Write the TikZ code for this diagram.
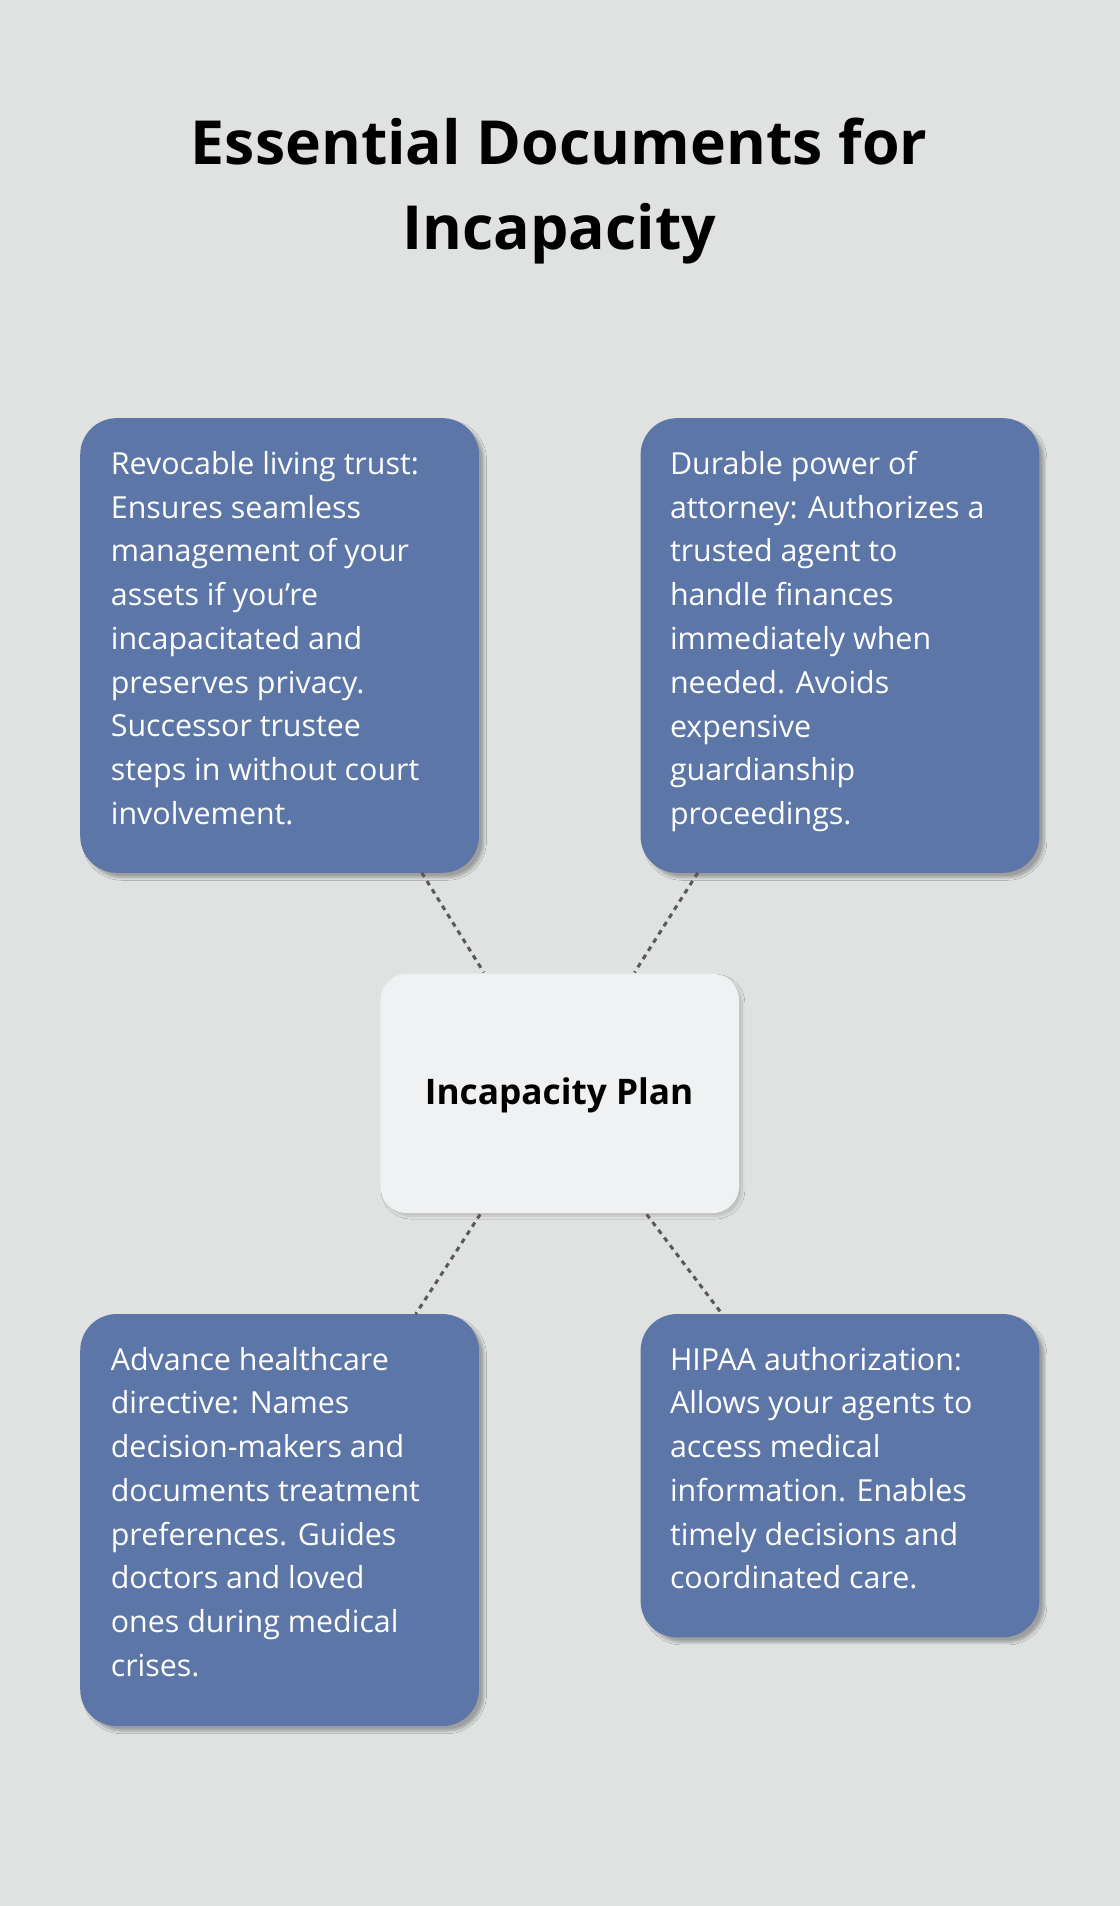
\documentclass[tikz,border=0pt]{standalone}
\usepackage{fontspec}
\setmainfont{Open Sans}
\usetikzlibrary{shadows.blur}
\definecolor{bg}{HTML}{E0E2E1}
\definecolor{boxc}{HTML}{5C76A8}
\definecolor{cen}{HTML}{F0F1F2}
\begin{document}
\begin{tikzpicture}[x=1pt,y=-1pt,
  card/.style={fill=boxc,rounded corners=30pt,blur shadow={shadow blur steps=8,shadow xshift=4pt,shadow yshift=-4pt,shadow opacity=30}},
  txt/.style={anchor=north west,align=left,text=white,font=\fontsize{25}{36}\selectfont,inner sep=0pt},
  link/.style={draw=black!65,line width=2.5pt,dash pattern=on 4pt off 4pt}]
\fill[bg] (0,0) rectangle (921,1568);
\useasboundingbox (0,0) rectangle (921,1568);
\node[font=\bfseries\fontsize{50}{70}\selectfont,align=center] (title) at (460,157) {Essential Documents for\\Incapacity};
\fill[card] (66,344) rectangle (394,718);
\fill[card] (527,344) rectangle (855,718);
\fill[card] (66,1081) rectangle (394,1420);
\fill[card] (527,1081) rectangle (855,1347);
\fill[cen,rounded corners=22pt,blur shadow={shadow blur steps=6,shadow opacity=15}] (313,801) rectangle (608,998);
\node[font=\bfseries\fontsize{29}{36}\selectfont] (c) at (460,901) {Incapacity Plan};
\node[txt] (a) at (91,371) {Revocable living trust:\\Ensures seamless\\management of your\\assets if you’re\\incapacitated and\\preserves privacy.\\Successor trustee\\steps in without court\\involvement.};
\node[txt] (b) at (551,371) {Durable power of\\attorney: Authorizes a\\trusted agent to\\handle finances\\immediately when\\needed. Avoids\\expensive\\guardianship\\proceedings.};
\node[txt] (d) at (91,1108) {Advance healthcare\\directive: Names\\decision-makers and\\documents treatment\\preferences. Guides\\doctors and loved\\ones during medical\\crises.};
\node[txt] (e) at (551,1108) {HIPAA authorization:\\Allows your agents to\\access medical\\information. Enables\\timely decisions and\\coordinated care.};
\coordinate (a1) at (347,718); \coordinate (c1) at (398,800);
\coordinate (b1) at (574,718); \coordinate (c2) at (522,800);
\coordinate (c3) at (395,999); \coordinate (d1) at (342,1081);
\coordinate (c4) at (532,999); \coordinate (e1) at (594,1081);
\draw[link] (a1)--(c1); \draw[link] (b1)--(c2);
\draw[link] (c3)--(d1); \draw[link] (c4)--(e1);
\end{tikzpicture}
\end{document}
